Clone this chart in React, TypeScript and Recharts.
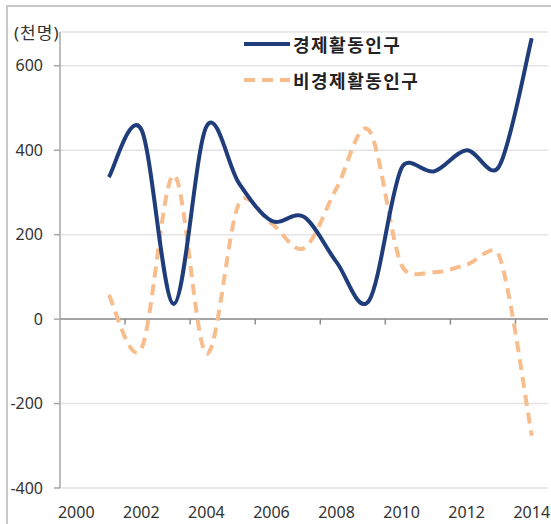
import { LineChart, Line, XAxis, YAxis, CartesianGrid, ReferenceLine } from 'recharts'

const years = [2001, 2002, 2003, 2004, 2005, 2006, 2007, 2008, 2009, 2010, 2011, 2012, 2013, 2014]
const active = [336, 449, 36, 456, 322, 233, 242, 135, 44, 358, 350, 400, 362, 665]
const inactive = [57, -70, 341, -82, 274, 227, 168, 310, 447, 128, 111, 129, 150, -276]

const xTicks = [2000, 2002, 2004, 2006, 2008, 2010, 2012, 2014]
const xTickMarks = [2001.5, 2003.5, 2005.5, 2007.5, 2009.5, 2011.5, 2013.5]
const yTicks = [-400, -200, 0, 200, 400, 600]

const ACTIVE_LABEL = '경제활동인구'
const INACTIVE_LABEL = '비경제활동인구'
const UNIT_LABEL = '(천명)'

const BLUE = '#1f3d7a'
const ORANGE = '#f8bd8d'
const FONT = "'Noto Sans', 'Noto Sans CJK KR', sans-serif"

const data = years.map((year, i) => ({ year, active: active[i], inactive: inactive[i] }))

// Excel-like smoothing: catmull-rom handles (1/6), capped at half the segment length
function excelCurve(context: any) {
  let pts: [number, number][] = []
  const dist = (a: [number, number], b: [number, number]) => Math.hypot(b[0] - a[0], b[1] - a[1])
  return {
    areaStart() {},
    areaEnd() {},
    lineStart() {
      pts = []
    },
    point(x: number, y: number) {
      pts.push([+x, +y])
    },
    lineEnd() {
      if (!pts.length) return
      context.moveTo(pts[0][0], pts[0][1])
      for (let i = 0; i < pts.length - 1; i++) {
        const p0 = pts[i - 1] || pts[i]
        const p1 = pts[i]
        const p2 = pts[i + 1]
        const p3 = pts[i + 2] || p2
        const d12 = dist(p1, p2)
        const d02 = dist(p0, p2)
        const d13 = dist(p1, p3)
        let k1 = 1 / 6
        let k2 = 1 / 6
        if (d02 / 6 > d12 / 2) k1 = d12 / 2 / d02
        if (d13 / 6 > d12 / 2) k2 = d12 / 2 / d13
        context.bezierCurveTo(
          p1[0] + (p2[0] - p0[0]) * k1,
          p1[1] + (p2[1] - p0[1]) * k1,
          p2[0] - (p3[0] - p1[0]) * k2,
          p2[1] - (p3[1] - p1[1]) * k2,
          p2[0],
          p2[1]
        )
      }
    },
  }
}

function LegendBox() {
  const row = (label: string, color: string, dashed: boolean) => (
    <div style={{ display: 'flex', alignItems: 'center', height: 36 }}>
      <svg width={47} height={8} style={{ marginRight: 2 }}>
        <line
          x1={0}
          y1={4}
          x2={46}
          y2={4}
          stroke={color}
          strokeWidth={4}
          strokeDasharray={dashed ? '11 7' : undefined}
        />
      </svg>
      <span style={{ fontFamily: FONT, fontSize: 18, fontWeight: 700, color: '#222', letterSpacing: 1.5 }}>
        {label}
      </span>
    </div>
  )
  return (
    <div style={{ position: 'absolute', left: 244, top: 26 }}>
      {row(ACTIVE_LABEL, BLUE, false)}
      {row(INACTIVE_LABEL, ORANGE, true)}
    </div>
  )
}

export default function App() {
  return (
    <div style={{ position: 'absolute', left: 0, top: 0, width: 551, height: 524, background: '#fff' }}>
      <div
        style={{
          position: 'absolute',
          left: 6,
          top: 5,
          right: 0,
          bottom: 0,
          borderTop: '2px solid #c8c8c8',
          borderLeft: '2px solid #c8c8c8',
        }}
      />
      <span
        style={{
          position: 'absolute',
          left: 14,
          top: 19,
          fontFamily: FONT,
          fontSize: 17,
          letterSpacing: 1,
          color: '#333',
        }}
      >
        {UNIT_LABEL}
      </span>
      <LineChart
        width={551}
        height={524}
        data={data}
        margin={{ top: 32, right: 3, bottom: 0, left: 0 }}
        style={{ position: 'absolute', left: 0, top: 0 }}
      >
        <CartesianGrid vertical={false} stroke="#e4e4e4" strokeWidth={1.5} />
        <XAxis
          dataKey="year"
          type="number"
          domain={[1999.5, 2014.5]}
          ticks={xTicks}
          interval={0}
          axisLine={false}
          tickLine={false}
          tickSize={0}
          tickMargin={19}
          height={36}
          tick={{ fontSize: 16, fill: '#333', fontFamily: FONT }}
        />
        <YAxis
          type="number"
          domain={[-400, 680]}
          ticks={yTicks}
          interval={0}
          width={60}
          axisLine={{ stroke: '#a6a6a6', strokeWidth: 1.5 }}
          tickLine={{ stroke: '#a6a6a6', strokeWidth: 1.5 }}
          tickSize={6}
          tickMargin={11}
          tick={{ fontSize: 16, fill: '#333', fontFamily: FONT }}
        />
        <ReferenceLine y={0} stroke="#8c8c8c" strokeWidth={1.5} />
        {xTickMarks.map((t) => (
          <ReferenceLine
            key={t}
            segment={[
              { x: t, y: 0 },
              { x: t, y: -13 },
            ]}
            stroke="#8c8c8c"
            strokeWidth={1.5}
          />
        ))}
        <Line
          dataKey="inactive"
          type={excelCurve as any}
          stroke={ORANGE}
          strokeWidth={4}
          strokeDasharray="11 7"
          dot={false}
          isAnimationActive={false}
        />
        <Line
          dataKey="active"
          type={excelCurve as any}
          stroke={BLUE}
          strokeWidth={4}
          dot={false}
          isAnimationActive={false}
        />
      </LineChart>
      <LegendBox />
    </div>
  )
}
